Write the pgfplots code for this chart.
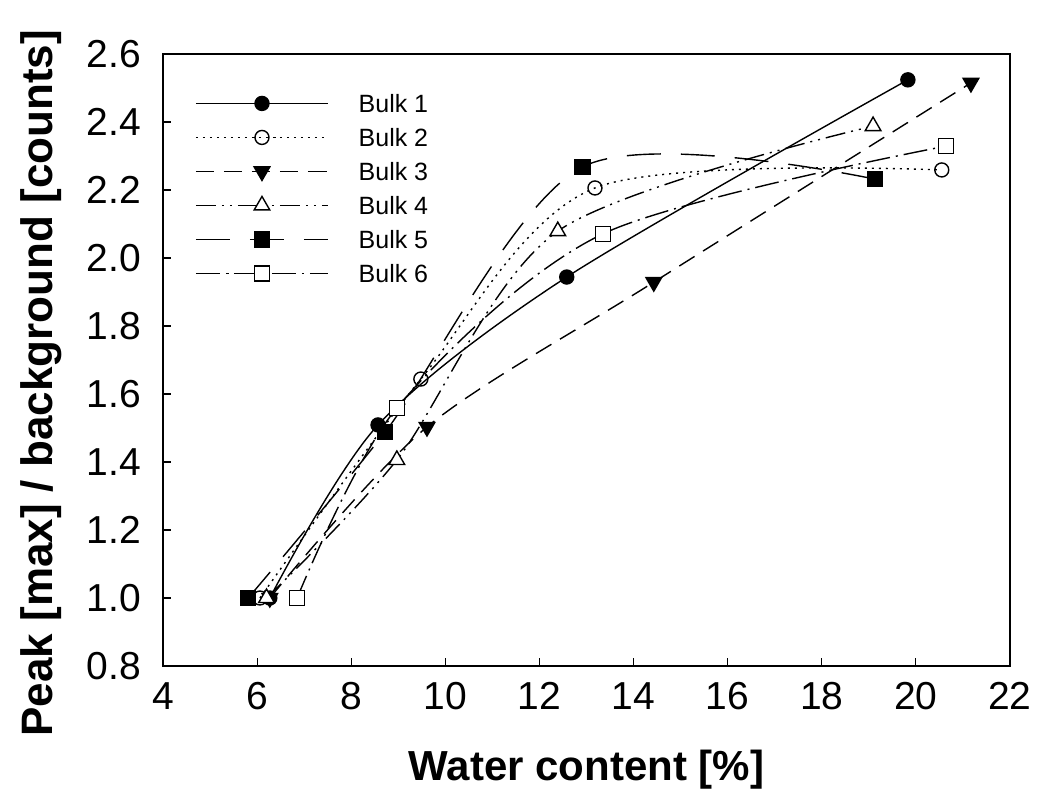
\documentclass[border=0pt]{standalone}
\usepackage{fontspec}
\setmainfont{Liberation Sans}
\usepackage{pgfplots}
\pgfplotsset{compat=1.18}
\begin{document}
\begin{tikzpicture}
\begin{axis}[
  scale only axis,
  width=423.5pt, height=306pt,
  xmin=4, xmax=22, ymin=0.8, ymax=2.6,
  xtick={4,6,...,22},
  ytick={0.8,1.0,...,2.6},
  yticklabel style={/pgf/number format/fixed, /pgf/number format/fixed zerofill, /pgf/number format/precision=1},
  /pgf/number format/assume math mode=true,
  tick align=inside,
  major tick length=4pt,
  xtick pos=bottom, ytick pos=left,
  axis line style={line width=0.8pt},
  tick style={line width=0.6pt, black},
  ticklabel style={font=\fontsize{19.5}{22}\selectfont},
  xticklabel style={yshift=-4pt, text height=14pt, text depth=0pt},
  yticklabel style={xshift=-7.5pt},
  xlabel={\bfseries Water content [\%]},
  ylabel={\bfseries Peak [max] / background [counts]},
  xlabel style={font=\fontsize{21}{24}\selectfont, at={(axis description cs:0.5,0)}, anchor=center, yshift=-52pt},
  ylabel style={font=\fontsize{22}{24}\selectfont, at={(axis description cs:0,0.462)}, anchor=center, yshift=61pt},
  every axis plot/.append style={black, line width=0.7pt, smooth},
  legend image code/.code={\draw[mark repeat=2,mark phase=2] plot coordinates {(0pt,0pt) (33pt,0pt) (66pt,0pt)};},
  legend cell align=left,
  legend style={draw=none, fill=none, at={(axis cs:4.55,2.494)}, anchor=north west,
    font=\fontsize{12.5}{14}\selectfont, row sep=8pt, column sep=15pt,
    nodes={inner sep=0pt, text height=9pt, text depth=0pt}},
]
\coordinate (ll) at (rel axis cs:0,0);
\coordinate (ur) at (rel axis cs:1,1);
\addplot[solid, mark=*, mark size=3.5pt, mark options={solid}] coordinates {(6.27,1.0) (8.57,1.509) (12.58,1.944) (19.83,2.524)};
\addlegendentry{Bulk 1}
\addplot[dash pattern=on 1pt off 2.5pt, mark=o, mark size=3.5pt, mark options={solid, fill=white}] coordinates {(6.06,1.0) (9.48,1.644) (13.18,2.206) (20.55,2.259)};
\addlegendentry{Bulk 2}
\addplot[dash pattern=on 9pt off 5pt, mark=triangle*, mark size=4.5pt, mark options={solid, rotate=180}] coordinates {(6.27,1.0) (9.61,1.503) (14.43,1.929) (21.17,2.515)};
\addlegendentry{Bulk 3}
\addplot[dash pattern=on 10pt off 3pt on 1pt off 3pt on 1pt off 3pt, mark=triangle*, mark size=4.5pt, mark options={solid, fill=white}] coordinates {(6.2,1.0) (8.97,1.406) (12.39,2.079) (19.09,2.388)};
\addlegendentry{Bulk 4}
\addplot[dash pattern=on 17pt off 10pt, mark=square*, mark size=3.8pt, mark options={solid}] coordinates {(5.81,1.0) (8.72,1.488) (12.92,2.268) (19.13,2.232)};
\addlegendentry{Bulk 5}
\addplot[dash pattern=on 12pt off 3pt on 1pt off 3pt, mark=square*, mark size=3.8pt, mark options={solid, fill=white}] coordinates {(6.85,1.0) (8.97,1.559) (13.35,2.071) (20.64,2.329)};
\addlegendentry{Bulk 6}
\end{axis}
\pgfresetboundingbox
\path[use as bounding box] ([xshift=-81.5pt,yshift=-68.5pt]ll) rectangle ([xshift=14.5pt,yshift=27pt]ur);
\end{tikzpicture}
\end{document}
